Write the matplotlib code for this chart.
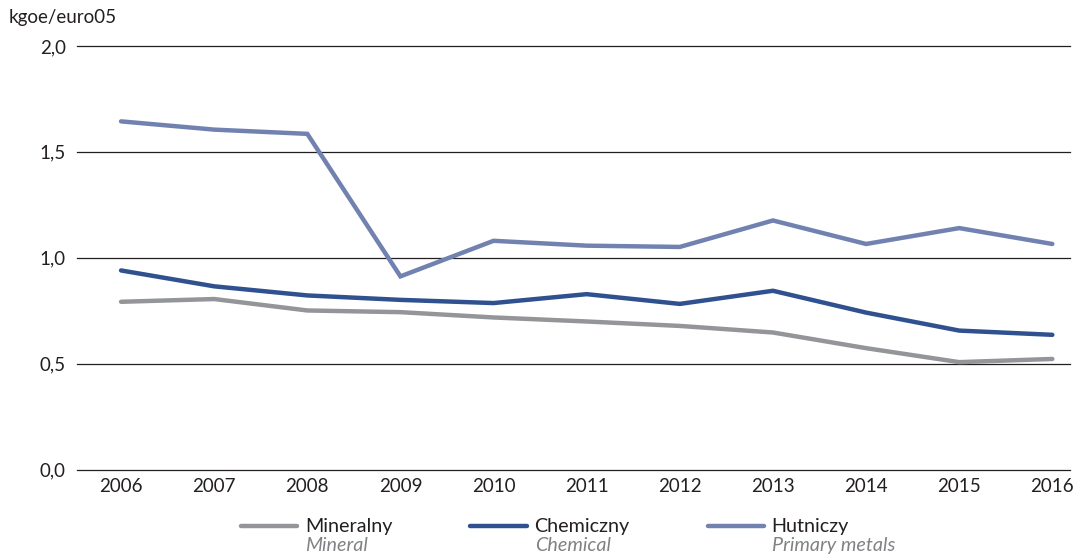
import matplotlib
matplotlib.use('Agg')
import matplotlib.pyplot as plt
from matplotlib.ticker import FuncFormatter

# dane
YEARS = [2006, 2007, 2008, 2009, 2010, 2011, 2012, 2013, 2014, 2015, 2016]
MINERALNY = [0.792, 0.805, 0.751, 0.743, 0.718, 0.699, 0.678, 0.647, 0.573, 0.507, 0.522]
CHEMICZNY = [0.940, 0.865, 0.822, 0.801, 0.786, 0.828, 0.782, 0.844, 0.741, 0.656, 0.636]
HUTNICZY = [1.644, 1.605, 1.585, 0.912, 1.080, 1.057, 1.051, 1.176, 1.065, 1.140, 1.065]

LABELS_PL = ["Mineralny", "Chemiczny", "Hutniczy"]
LABELS_EN = ["Mineral", "Chemical", "Primary metals"]
COLORS = ['#939598', '#2f5190', '#7282b0']
Y_TICKS = [0.0, 0.5, 1.0, 1.5, 2.0]

plt.rcParams['font.family'] = ['Lato', 'DejaVu Sans']
FS = 13.5
FS_LEG = 14.2

fig = plt.figure(figsize=(10.74, 5.58), dpi=100)
ax = fig.add_axes([0.0717, 0.1586, 0.9246, 0.759])

series = [MINERALNY, CHEMICZNY, HUTNICZY]
handles = []
for vals, lab, col in zip(series, LABELS_PL, COLORS):
    h, = ax.plot(YEARS, vals, color=col, linewidth=3.2, solid_capstyle='round',
                 solid_joinstyle='miter', label=lab, zorder=3)
    handles.append(h)

ax.set_xlim(2005.527, 2016.19)
ax.set_ylim(0, 2.0)
ax.set_xticks(YEARS)
ax.set_yticks(Y_TICKS)
ax.yaxis.set_major_formatter(FuncFormatter(lambda v, p: f"{v:.1f}".replace('.', ',')))
ax.tick_params(axis='both', length=0, labelsize=FS, colors='#231f20')
ax.tick_params(axis='y', pad=8)
ax.tick_params(axis='x', pad=6)
ax.grid(True, axis='y', color='#231f20', linewidth=0.9)
for gl in ax.get_ygridlines():
    gl.set_clip_on(False)
ax.set_axisbelow(True)
for s in ax.spines.values():
    s.set_visible(False)

fig.text(0.008, 0.968, "kgoe/euro05", fontsize=FS, color='#231f20', va='center', ha='left')

leg = fig.legend(handles=handles, labels=LABELS_PL, loc='center left', bbox_to_anchor=(0.2245, 0.0556),
                 ncol=3, frameon=False, fontsize=FS_LEG, handlelength=2.85, handletextpad=0.4,
                 columnspacing=3.95, borderaxespad=0, borderpad=0)
for t in leg.get_texts():
    t.set_color('#231f20')

# angielskie podpisy pod legendą
fig.canvas.draw()
inv = fig.transFigure.inverted()
for t, en in zip(leg.get_texts(), LABELS_EN):
    bb = t.get_window_extent()
    x0, y0 = inv.transform((bb.x0, bb.y0))
    fig.text(x0, y0 - 0.002, en, fontsize=FS_LEG, style='italic', color='#808285',
             ha='left', va='top')

plt.savefig('out.png', dpi=100)
plt.close()
